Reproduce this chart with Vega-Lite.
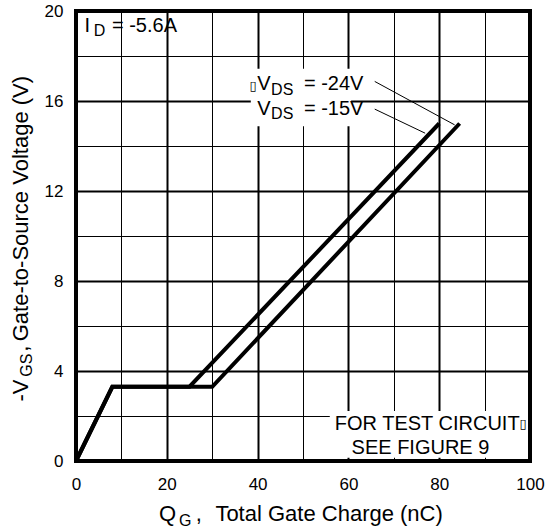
{
  "$schema": "https://vega.github.io/schema/vega-lite/v6.json",
  "width": 454,
  "height": 450,
  "autosize": "none",
  "padding": {"left": 76, "top": 11, "right": 24, "bottom": 69},
  "background": "white",
  "config": {"view": {"stroke": null}, "font": "Liberation Sans", "text": {"font": "Liberation Sans", "color": "black"}},
  "datasets": {
    "curves": [
      {"s": "-15V", "x": 0, "y": 0},
      {"s": "-15V", "x": 8, "y": 3.3},
      {"s": "-15V", "x": 25, "y": 3.3},
      {"s": "-15V", "x": 80, "y": 15},
      {"s": "-24V", "x": 0, "y": 0},
      {"s": "-24V", "x": 8, "y": 3.3},
      {"s": "-24V", "x": 30, "y": 3.3},
      {"s": "-24V", "x": 84.5, "y": 15}
    ],
    "leaders": [
      {"x": 65.8, "y": 16.87, "x2": 83.4, "y2": 14.94},
      {"x": 65.8, "y": 15.64, "x2": 76.9, "y2": 14.57}
    ],
    "boxes": [
      {"x": 38.5, "x2": 60.6, "y": 14.88, "y2": 17.43},
      {"x": 55.9, "x2": 100, "y": 0.15, "y2": 2.22}
    ],
    "main": [
      {"t": "I", "x": 1.87, "y": 19.07},
      {"t": "= -5.6A", "x": 7.92, "y": 19.07},
      {"t": "V", "x": 39.93, "y": 16.5},
      {"t": "= -24V", "x": 50.2, "y": 16.5},
      {"t": "V", "x": 39.93, "y": 15.39},
      {"t": "= -15V", "x": 50.2, "y": 15.39},
      {"t": "FOR TEST CIRCUIT", "x": 57.0, "y": 1.4},
      {"t": "SEE FIGURE 9", "x": 60.7, "y": 0.29}
    ],
    "titles": [
      {"t": "Q", "x": 18.26, "y": -2.66},
      {"t": ",", "x": 26.4, "y": -2.66},
      {"t": "Total Gate Charge (nC)", "x": 30.7, "y": -2.66}
    ],
    "subs": [
      {"t": "D", "x": 3.9, "y": 18.89},
      {"t": "DS", "x": 42.97, "y": 16.27},
      {"t": "DS", "x": 42.97, "y": 15.21},
      {"t": "G", "x": 22.7, "y": -2.91}
    ],
    "tofu": [
      {"t": "▯", "x": 38.2, "y": 16.5},
      {"t": "▯", "x": 97.7, "y": 1.45}
    ],
    "ymain": [
      {"t": "-V", "x": -10.67, "y": 2.64},
      {"t": ",", "x": -10.67, "y": 4.86},
      {"t": "Gate-to-Source Voltage (V)", "x": -10.67, "y": 5.32}
    ],
    "ysub": [
      {"t": "GS", "x": -9.8, "y": 3.75}
    ]
  },
  "layer": [
    {
      "data": {"name": "curves"},
      "mark": {"type": "line", "color": "black", "strokeWidth": 4, "opacity": 0},
      "encoding": {
        "x": {
          "field": "x", "type": "quantitative",
          "scale": {"domain": [0, 100], "nice": false},
          "axis": {
            "values": [0, 10, 20, 30, 40, 50, 60, 70, 80, 90, 100],
            "title": null, "domain": false, "ticks": false, "tickSize": 0,
            "labelExpr": "datum.value % 20 === 0 ? datum.label : ''",
            "labelFontSize": 17, "labelFont": "Liberation Sans", "labelColor": "black",
            "labelPadding": 15, "labelBaseline": "top", "labelFlush": false, "labelOverlap": false,
            "grid": true, "gridColor": "black", "gridOpacity": 1,
            "gridWidth": {"condition": {"test": "datum.value % 20 === 0", "value": 2}, "value": 1}
          }
        },
        "y": {
          "field": "y", "type": "quantitative",
          "scale": {"domain": [0, 20], "nice": false},
          "axis": {
            "values": [0, 2, 4, 6, 8, 10, 12, 14, 16, 18, 20],
            "title": null, "domain": false, "ticks": false, "tickSize": 0,
            "labelExpr": "datum.value % 4 === 0 ? datum.label : ''",
            "labelFontSize": 17, "labelFont": "Liberation Sans", "labelColor": "black",
            "labelPadding": 13, "labelFlush": false, "labelOverlap": false,
            "grid": true, "gridColor": "black", "gridOpacity": 1,
            "gridWidth": {"condition": {"test": "datum.value % 4 === 0", "value": 2}, "value": 1}
          }
        },
        "detail": {"field": "s"}
      }
    },
    {
      "data": {"name": "boxes"},
      "mark": {"type": "rect", "color": "white"},
      "encoding": {
        "x": {"field": "x", "type": "quantitative", "scale": {"domain": [0, 100], "nice": false}},
        "x2": {"field": "x2"},
        "y": {"field": "y", "type": "quantitative", "scale": {"domain": [0, 20], "nice": false}},
        "y2": {"field": "y2"}
      }
    },
    {
      "data": {"name": "curves"},
      "mark": {"type": "line", "color": "black", "strokeWidth": 4, "strokeJoin": "miter", "strokeCap": "butt"},
      "encoding": {
        "x": {"field": "x", "type": "quantitative", "scale": {"domain": [0, 100], "nice": false}},
        "y": {"field": "y", "type": "quantitative", "scale": {"domain": [0, 20], "nice": false}},
        "detail": {"field": "s"}
      }
    },
    {
      "data": {"name": "leaders"},
      "mark": {"type": "rule", "color": "black", "strokeWidth": 1},
      "encoding": {
        "x": {"field": "x", "type": "quantitative", "scale": {"domain": [0, 100], "nice": false}},
        "x2": {"field": "x2"},
        "y": {"field": "y", "type": "quantitative", "scale": {"domain": [0, 20], "nice": false}},
        "y2": {"field": "y2"}
      }
    },
    {
      "data": {"name": "main"},
      "mark": {"type": "text", "fontSize": 20, "align": "left", "baseline": "alphabetic", "color": "black"},
      "encoding": {
        "x": {"field": "x", "type": "quantitative", "scale": {"domain": [0, 100], "nice": false}},
        "y": {"field": "y", "type": "quantitative", "scale": {"domain": [0, 20], "nice": false}},
        "text": {"field": "t"}
      }
    },
    {
      "data": {"name": "titles"},
      "mark": {"type": "text", "fontSize": 22, "align": "left", "baseline": "alphabetic", "color": "black"},
      "encoding": {
        "x": {"field": "x", "type": "quantitative", "scale": {"domain": [0, 100], "nice": false}},
        "y": {"field": "y", "type": "quantitative", "scale": {"domain": [0, 20], "nice": false}},
        "text": {"field": "t"}
      }
    },
    {
      "data": {"name": "subs"},
      "mark": {"type": "text", "fontSize": 16, "align": "left", "baseline": "alphabetic", "color": "black"},
      "encoding": {
        "x": {"field": "x", "type": "quantitative", "scale": {"domain": [0, 100], "nice": false}},
        "y": {"field": "y", "type": "quantitative", "scale": {"domain": [0, 20], "nice": false}},
        "text": {"field": "t"}
      }
    },
    {
      "data": {"name": "tofu"},
      "mark": {"type": "text", "fontSize": 13, "align": "left", "baseline": "alphabetic", "color": "black", "font": "DejaVu Sans"},
      "encoding": {
        "x": {"field": "x", "type": "quantitative", "scale": {"domain": [0, 100], "nice": false}},
        "y": {"field": "y", "type": "quantitative", "scale": {"domain": [0, 20], "nice": false}},
        "text": {"field": "t"}
      }
    },
    {
      "data": {"name": "ymain"},
      "mark": {"type": "text", "fontSize": 22, "angle": 270, "align": "left", "baseline": "alphabetic", "color": "black"},
      "encoding": {
        "x": {"field": "x", "type": "quantitative", "scale": {"domain": [0, 100], "nice": false}},
        "y": {"field": "y", "type": "quantitative", "scale": {"domain": [0, 20], "nice": false}},
        "text": {"field": "t"}
      }
    },
    {
      "data": {"name": "ysub"},
      "mark": {"type": "text", "fontSize": 16, "angle": 270, "align": "left", "baseline": "alphabetic", "color": "black"},
      "encoding": {
        "x": {"field": "x", "type": "quantitative", "scale": {"domain": [0, 100], "nice": false}},
        "y": {"field": "y", "type": "quantitative", "scale": {"domain": [0, 20], "nice": false}},
        "text": {"field": "t"}
      }
    },
    {
      "data": {"values": [{}]},
      "mark": {"type": "rect", "filled": false, "color": "black", "strokeWidth": 4},
      "encoding": {
        "x": {"datum": 0, "type": "quantitative", "scale": {"domain": [0, 100], "nice": false}},
        "x2": {"datum": 100},
        "y": {"datum": 0, "type": "quantitative", "scale": {"domain": [0, 20], "nice": false}},
        "y2": {"datum": 20}
      }
    }
  ]
}
